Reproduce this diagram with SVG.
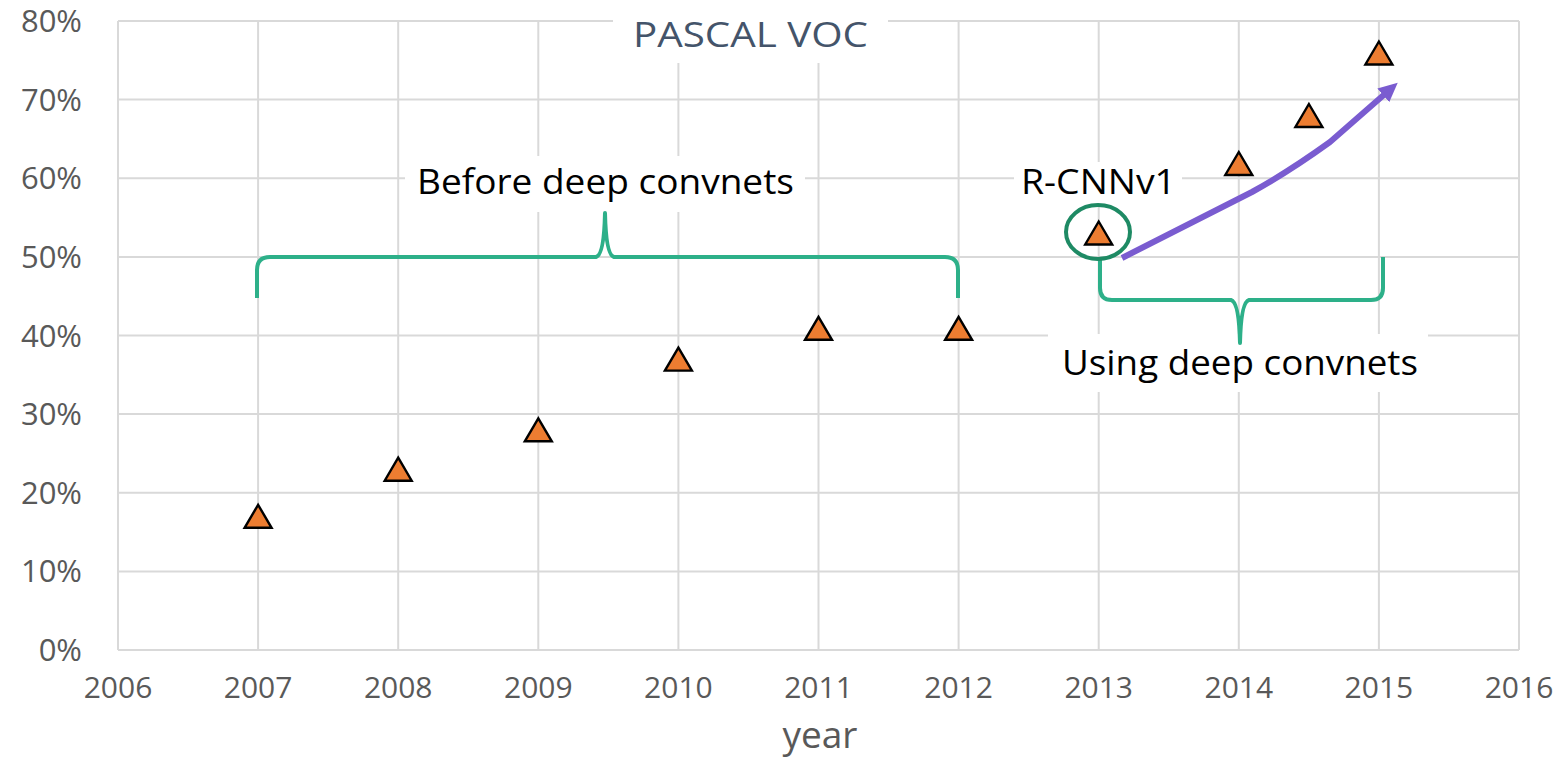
<svg xmlns="http://www.w3.org/2000/svg" xmlns:xlink="http://www.w3.org/1999/xlink" width="1560" height="759" viewBox="0 0 1560 759">
<style>
.grid{stroke:#d9d9d9;stroke-width:2;fill:none}
.tick{font-family:"Open Sans","Liberation Sans",sans-serif;font-size:30px;fill:#595959}
.ylab{text-anchor:end;font-size:31px}
.xlab{text-anchor:middle}
.ann{font-family:"Open Sans","Liberation Sans",sans-serif;font-size:34px;fill:#000}
.brace{fill:none;stroke:#2db089;stroke-width:4;stroke-linecap:butt;stroke-linejoin:round}
.mask{fill:#fff}
</style>
<defs>
<path id="tri" d="M0,-11.5 L13.5,11.5 L-13.5,11.5 Z" fill="#ed7d31" stroke="#000" stroke-width="2.4" stroke-linejoin="miter"/>
<marker id="arrowhead" markerWidth="4" markerHeight="4" refX="0.6" refY="1.5" orient="auto" markerUnits="strokeWidth">
<path d="M0,0 L3.2,1.5 L0,3 Z" fill="#7a5cd0"/>
</marker>
</defs>
<rect width="1560" height="759" fill="#fff"/>
<g id="grid">
<path class="grid" d="M118,21H1519M118,99.6H1519M118,178.3H1519M118,256.9H1519M118,335.5H1519M118,414.1H1519M118,492.8H1519M118,571.4H1519M118,650H1519"/>
<path class="grid" d="M118,21V650M258.1,21V650M398.2,21V650M538.3,21V650M678.4,21V650M818.5,21V650M958.6,21V650M1098.7,21V650M1238.8,21V650M1378.9,21V650M1519,21V650"/>
</g>
<g id="y-axis">
<text class="tick ylab" x="82" y="32">80%</text>
<text class="tick ylab" x="82" y="110.6">70%</text>
<text class="tick ylab" x="82" y="189.3">60%</text>
<text class="tick ylab" x="82" y="267.9">50%</text>
<text class="tick ylab" x="82" y="346.5">40%</text>
<text class="tick ylab" x="82" y="425.1">30%</text>
<text class="tick ylab" x="82" y="503.8">20%</text>
<text class="tick ylab" x="82" y="582.4">10%</text>
<text class="tick ylab" x="82" y="661">0%</text>
</g>
<g id="x-axis">
<text class="tick xlab" x="118" y="698">2006</text>
<text class="tick xlab" x="258.1" y="698">2007</text>
<text class="tick xlab" x="398.2" y="698">2008</text>
<text class="tick xlab" x="538.3" y="698">2009</text>
<text class="tick xlab" x="678.4" y="698">2010</text>
<text class="tick xlab" x="818.5" y="698">2011</text>
<text class="tick xlab" x="958.6" y="698">2012</text>
<text class="tick xlab" x="1098.7" y="698">2013</text>
<text class="tick xlab" x="1238.8" y="698">2014</text>
<text class="tick xlab" x="1378.9" y="698">2015</text>
<text class="tick xlab" x="1519" y="698">2016</text>
<text x="820" y="748" text-anchor="middle" font-family="'Open Sans','Liberation Sans',sans-serif" font-size="37" fill="#595959">year</text>
</g>
<g id="title">
<rect class="mask" x="613" y="14" width="275" height="49"/>
<text x="633" y="47" font-family="'Open Sans','Liberation Sans',sans-serif" font-size="34" fill="#44546a" textLength="235" lengthAdjust="spacingAndGlyphs">PASCAL VOC</text>
</g>
<g id="label-before">
<rect class="mask" x="405" y="156" width="400" height="56"/>
<text class="ann" x="417" y="194" textLength="377" lengthAdjust="spacingAndGlyphs">Before deep convnets</text>
</g>
<g id="label-rcnn">
<rect class="mask" x="1014" y="162" width="168" height="44"/>
<text class="ann" x="1021" y="194" textLength="155" lengthAdjust="spacingAndGlyphs">R-CNNv1</text>
</g>
<g id="label-using">
<rect class="mask" x="1048" y="334" width="380" height="58"/>
<text class="ann" x="1062" y="375" textLength="356" lengthAdjust="spacingAndGlyphs">Using deep convnets</text>
</g>
<g id="connectors">
<path id="brace-before" class="brace" d="M257,298 L257,270 Q257,257 270,257 L596,257 Q604,255 605,213 Q606,255 614,257 L945,257 Q958,257 958,270 L958,298"/>
<path id="brace-using" class="brace" d="M1100,260 L1100,288 Q1100,300 1112,300 L1231,300 Q1239,302 1240,343 Q1241,302 1249,300 L1371,300 Q1383,300 1383,288 L1383,257"/>
<ellipse id="rcnn-circle" cx="1098" cy="232" rx="32" ry="27" fill="none" stroke="#1e8a64" stroke-width="4"/>
<path id="trend-arrow" d="M1122,258 L1252,192 C1272,181 1305,160 1330,142 L1386,93" fill="none" stroke="#7a5cd0" stroke-width="6" stroke-linecap="butt" stroke-linejoin="round" marker-end="url(#arrowhead)"/>
</g>
<g id="points">
<g id="p2007"><use xlink:href="#tri" x="258.1" y="516.3"/></g>
<g id="p2008"><use xlink:href="#tri" x="398.2" y="469.2"/></g>
<g id="p2009"><use xlink:href="#tri" x="538.3" y="429.8"/></g>
<g id="p2010"><use xlink:href="#tri" x="678.4" y="359.1"/></g>
<g id="p2011"><use xlink:href="#tri" x="818.5" y="328.3"/></g>
<g id="p2012"><use xlink:href="#tri" x="958.6" y="328.3"/></g>
<g id="p2013"><use xlink:href="#tri" x="1098.7" y="233"/></g>
<g id="p2014"><use xlink:href="#tri" x="1238.8" y="163.5"/></g>
<g id="p2014b"><use xlink:href="#tri" x="1308.9" y="115.5"/></g>
<g id="p2015"><use xlink:href="#tri" x="1378.9" y="53"/></g>
</g>
</svg>
